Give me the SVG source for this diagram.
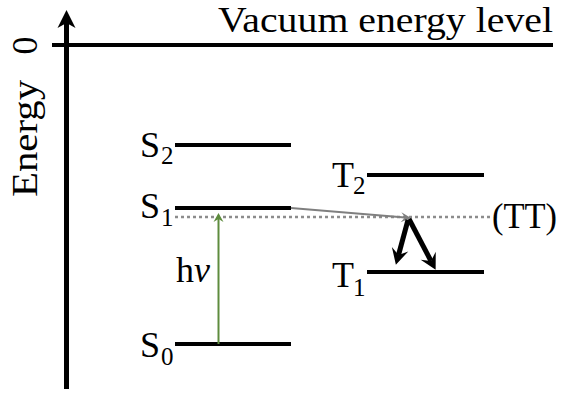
<svg xmlns="http://www.w3.org/2000/svg" width="561" height="393" viewBox="0 0 561 393">
<style>
text{font-family:"Liberation Serif","Times New Roman",serif;fill:#000}
.lbl{font-size:36px}
.sub{font-size:25px}
.lvl{stroke:#000;stroke-width:4;fill:none}
</style>
<defs>
<marker id="ahAxis" viewBox="-20 -10 22 20" markerWidth="22" markerHeight="20" refX="-13" refY="0" markerUnits="userSpaceOnUse" orient="auto">
<path d="M0,0 L-18,-9 L-13,0 L-18,9 Z" fill="#000"/>
</marker>
<marker id="ahGreen" viewBox="-12 -6 14 12" markerWidth="14" markerHeight="12" refX="-6" refY="0" markerUnits="userSpaceOnUse" orient="auto">
<path d="M0,0 L-9,-5 L-6,0 L-9,5 Z" fill="#5e8c3e"/>
</marker>
<marker id="ahGray" viewBox="-12 -6 14 12" markerWidth="14" markerHeight="12" refX="-6" refY="0" markerUnits="userSpaceOnUse" orient="auto">
<path d="M0,0 L-10,-5 L-6,0 L-10,5 Z" fill="#7f7f7f"/>
</marker>
<marker id="ahBlack" viewBox="-18 -10 20 20" markerWidth="20" markerHeight="20" refX="-10" refY="0" markerUnits="userSpaceOnUse" orient="auto">
<path d="M0,0 L-16,-8.5 L-10,0 L-16,8.5 Z" fill="#000"/>
</marker>
</defs>

<g id="axis">
<line x1="66.5" y1="389" x2="66.5" y2="23" stroke="#000" stroke-width="5" marker-end="url(#ahAxis)"/>
<text class="lbl" transform="translate(37,138.5) rotate(-90)" text-anchor="middle" textLength="117" lengthAdjust="spacingAndGlyphs">Energy</text>
<text class="lbl" transform="translate(37,45.5) rotate(-90)" text-anchor="middle">0</text>
</g>

<g id="vacuum">
<line x1="52" y1="45" x2="553" y2="45" stroke="#000" stroke-width="4"/>
<text class="lbl" x="218" y="32" textLength="335" lengthAdjust="spacingAndGlyphs">Vacuum energy level</text>
</g>

<g id="S2">
<line class="lvl" x1="175" y1="145" x2="291" y2="145"/>
<text class="lbl" x="140" y="157">S</text><text class="sub" x="161" y="164">2</text>
</g>
<g id="S1">
<line class="lvl" x1="175" y1="208" x2="291" y2="208"/>
<text class="lbl" x="140" y="218">S</text><text class="sub" x="161" y="226">1</text>
</g>
<g id="S0">
<line class="lvl" x1="175" y1="344" x2="291" y2="344"/>
<text class="lbl" x="140" y="357">S</text><text class="sub" x="161" y="365">0</text>
</g>
<g id="T2">
<line class="lvl" x1="367" y1="175" x2="484" y2="175"/>
<text class="lbl" x="332" y="187">T</text><text class="sub" x="353" y="194">2</text>
</g>
<g id="T1">
<line class="lvl" x1="367" y1="272" x2="484" y2="272"/>
<text class="lbl" x="332" y="287">T</text><text class="sub" x="353" y="296">1</text>
</g>
<g id="TT">
<line x1="175" y1="217" x2="490" y2="217" stroke="#8c8c8c" stroke-width="2.5" stroke-dasharray="3,3"/>
<text class="lbl" x="492" y="228" textLength="65" lengthAdjust="spacingAndGlyphs">(TT)</text>
</g>
<g id="hv">
<text class="lbl" x="176" y="282">h<tspan font-style="italic">ν</tspan></text>
</g>

<g id="connectors">
<line x1="218.5" y1="344" x2="218.5" y2="219" stroke="#5e8c3e" stroke-width="2" marker-end="url(#ahGreen)"/>
<line x1="291" y1="208" x2="405" y2="217.5" stroke="#7f7f7f" stroke-width="2.2" marker-end="url(#ahGray)"/>
<line x1="408" y1="220" x2="398.5" y2="255" stroke="#000" stroke-width="5" marker-end="url(#ahBlack)"/>
<line x1="409" y1="219" x2="431" y2="261" stroke="#000" stroke-width="5" marker-end="url(#ahBlack)"/>
</g>
</svg>
